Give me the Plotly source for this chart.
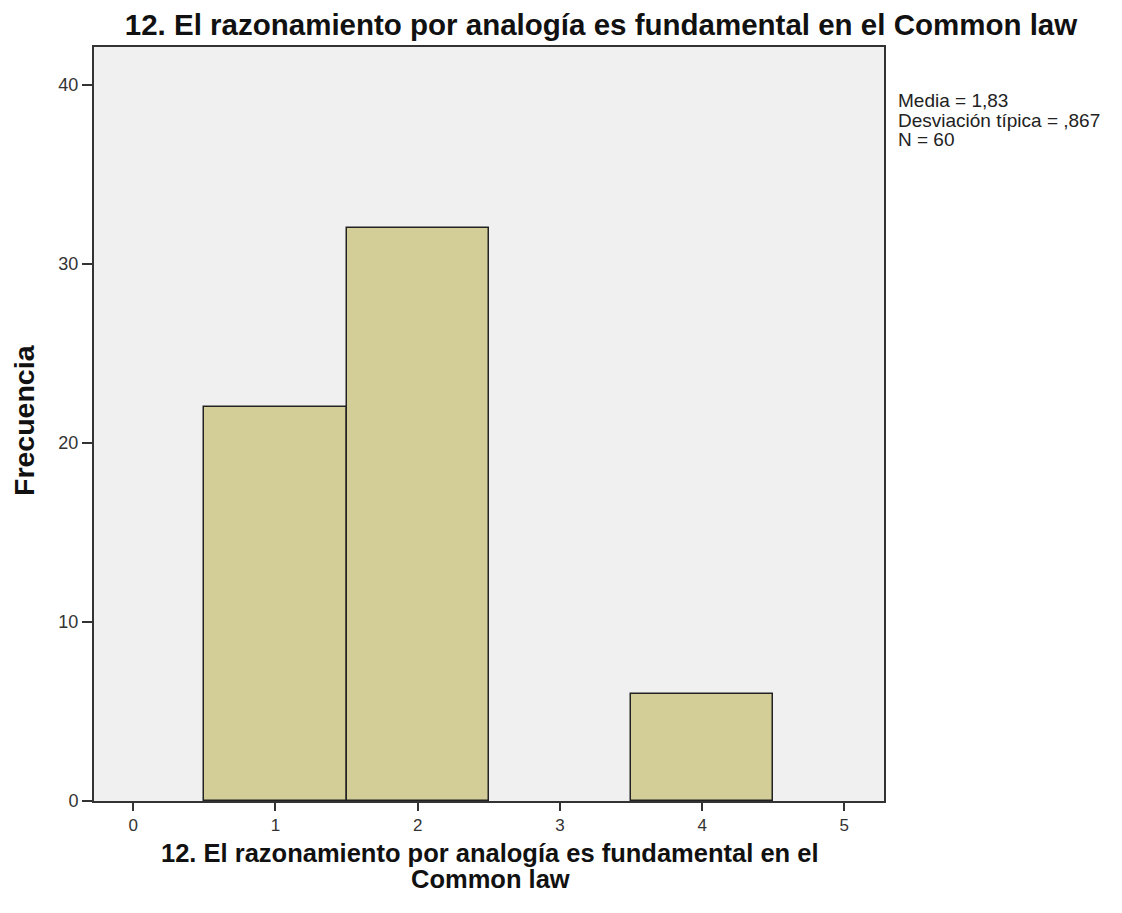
import plotly.graph_objects as go

categories = [1, 2, 3, 4]
frequencies = [22, 32, 0, 6]
x_ticks = [0, 1, 2, 3, 4, 5]
y_ticks = [0, 10, 20, 30, 40]
title = "12. El razonamiento por analogía es fundamental en el Common law"
x_title_lines = ["12. El razonamiento por analogía es fundamental en el", "Common law"]
y_title = "Frecuencia"
stats_lines = ["Media = 1,83", "Desviación típica = ,867", "N = 60"]

W, H = 1114, 905
L, R, T, B = 86, 238, 39, 112
PW, PH = W - L - R, H - T - B


def px(xp):
    return (xp - 8 - L) / PW


def py(yp):
    return (H - B - (yp - 8)) / PH


fig = go.Figure()
fig.add_trace(go.Bar(
    x=categories, y=frequencies, width=1,
    marker=dict(color="#d3ce97",
                line=dict(color="#222222", width=[1.5 if v > 0 else 0 for v in frequencies])),
    showlegend=False,
))

annotations = []
for line, yy in zip(x_title_lines, [853, 879]):
    annotations.append(dict(text="<b>" + line + "</b>", xref="paper", yref="paper",
                            x=px(490), y=py(yy), xanchor="center", yanchor="middle",
                            showarrow=False, font=dict(size=25.5, color="#111111")))
annotations.append(dict(text="<b>" + y_title + "</b>", xref="paper", yref="paper",
                        x=px(24), y=py(420), xanchor="center", yanchor="middle",
                        textangle=-90, showarrow=False, font=dict(size=28.5, color="#111111")))
for line, yy in zip(stats_lines, [101, 120, 139]):
    annotations.append(dict(text=line, xref="paper", yref="paper", x=px(896), y=py(yy),
                            xanchor="left", yanchor="middle", showarrow=False, align="left",
                            font=dict(size=19, color="#222222")))

fig.update_layout(
    width=W, height=H,
    margin=dict(l=L, r=R, t=T, b=B),
    paper_bgcolor="white", plot_bgcolor="#f0f0f0",
    font=dict(family="Liberation Sans, Arial", color="#222222"),
    title=dict(text="<b>" + title + "</b>", x=(601 - 8) / W, xanchor="center",
               y=1 - (25 - 8) / H, yanchor="middle", font=dict(size=29.5, color="#111111")),
    bargap=0,
    xaxis=dict(range=[-0.276, 5.279], tickvals=x_ticks, ticktext=[str(v) for v in x_ticks],
               showgrid=False, zeroline=False, ticks="outside", ticklen=8, tickwidth=2,
               tickcolor="#333333", showline=True, linecolor="#333333", linewidth=2, mirror=True,
               tickfont=dict(size=17, color="#333333")),
    yaxis=dict(range=[0, 42.1], tickvals=y_ticks, showgrid=False, zeroline=False,
               ticks="outside", ticklen=10, tickwidth=2, tickcolor="#333333",
               showline=True, linecolor="#333333", linewidth=2, mirror=True,
               tickfont=dict(size=18, color="#333333")),
    annotations=annotations,
)

fig.write_html("out.html")
